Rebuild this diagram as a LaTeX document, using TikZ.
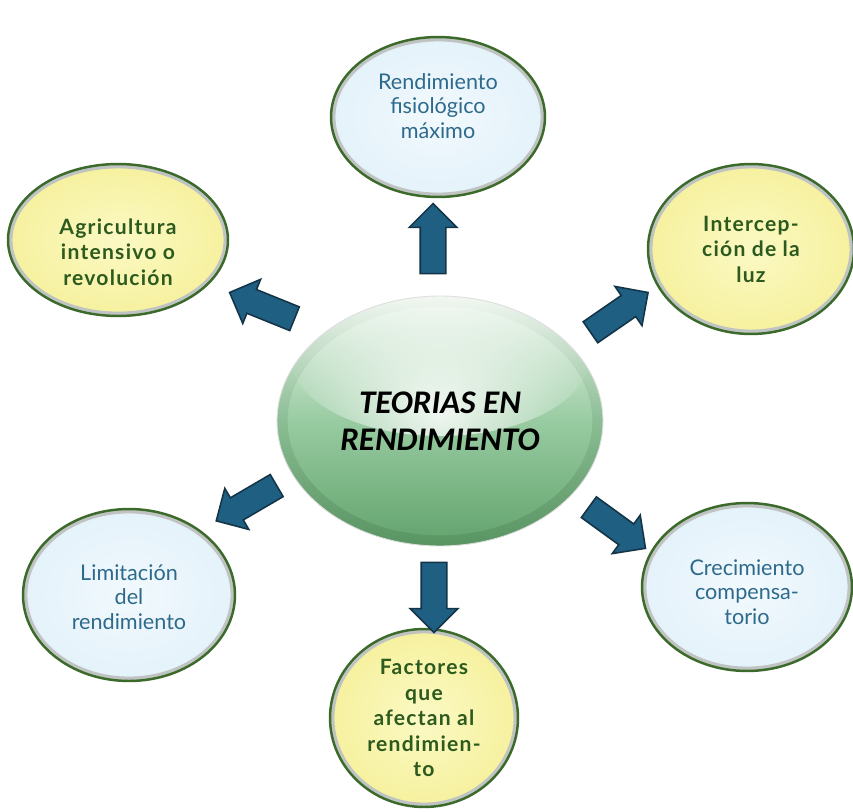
\documentclass[tikz,border=0pt]{standalone}
\usepackage{fontspec}
\setmainfont{Lato}
\newfontfamily\titlefont{Carlito}
\usetikzlibrary{shapes.geometric,shapes.arrows,calc,fadings}
\definecolor{arrowblue}{HTML}{1F5F82}
\definecolor{arrowedge}{HTML}{143447}
\definecolor{ringgreen}{HTML}{3B6A2B}
\definecolor{bluefill}{HTML}{E4F2FA}
\definecolor{bluefillin}{HTML}{F1F9FD}
\definecolor{yellowfill}{HTML}{F6F19E}
\definecolor{yellowfillin}{HTML}{FBF9C4}
\definecolor{bluetext}{HTML}{2E6A8B}
\definecolor{greentext}{HTML}{2D5A1E}
\definecolor{gTop}{HTML}{F3F9F3}
\definecolor{gMid}{HTML}{98CBA1}
\definecolor{gBot}{HTML}{62A36D}
\definecolor{bevel}{HTML}{BFC3C1}
\tikzfading[name=softglow, inner color=transparent!0, outer color=transparent!100]
\tikzset{
  ringpp/.style={path picture={
    \draw[#1, line width=5pt]
      let \p0=(path picture bounding box.center),
          \p1=(path picture bounding box.east),
          \p2=(path picture bounding box.north)
      in (\p0) ellipse [x radius={\x1-\x0}, y radius={\y2-\y0}];}},
  bubble/.style={ellipse, draw=ringgreen, line width=1.4pt, ringpp=bevel, inner sep=0pt},
  bluebubble/.style={bubble, inner color=bluefillin, outer color=bluefill},
  yellowbubble/.style={bubble, inner color=yellowfillin, outer color=yellowfill},
  bluetxt/.style={text=bluetext, align=center, font=\fontsize{12.3}{13.8}\selectfont},
  greentxt/.style={text=greentext, align=center, font=\fontsize{12}{14.5}\selectfont\bfseries\addfontfeature{LetterSpace=6}},
  centerpp/.style={path picture={
    \fill[white, opacity=0.85, path fading=softglow]
      ($(path picture bounding box.north)+(0,-1.2cm)$) ellipse [x radius=3.0cm, y radius=1.6cm];
    \draw[gBot!70!black, opacity=0.3, line width=12pt, path fading=north]
      let \p0=(path picture bounding box.center),
          \p1=(path picture bounding box.east),
          \p2=(path picture bounding box.north)
      in (\p0) ellipse [x radius={\x1-\x0}, y radius={\y2-\y0}];}},
  barrow/.style={single arrow, fill=arrowblue, draw=arrowedge, line width=0.9pt,
    minimum height=1.4cm, minimum width=0pt, inner xsep=0pt, inner ysep=0.24cm,
    single arrow head extend=0.22cm, single arrow tip angle=90},
}
\begin{document}
\begin{tikzpicture}[x=0.02cm, y=-0.02cm]
\useasboundingbox (0,0) rectangle (853,812);
\fill[white] (0,0) rectangle (853,812);

\node[bluebubble, minimum width=4.28cm, minimum height=3.2cm,
  label={[bluetxt, yshift=0.22cm, name=rfmtxt]center:{Rendimiento\\fisiológico\\máximo}}] (rfm) at (438,117) {};
\node[yellowbubble, minimum width=4.4cm, minimum height=3.04cm,
  label={[greentxt, yshift=-0.24cm, name=agrtxt]center:{Agricultura\\intensivo o\\revolución}}] (agr) at (118,240) {};
\node[yellowbubble, minimum width=4.12cm, minimum height=3.4cm,
  label={[greentxt, yshift=0cm, name=inttxt]center:{Intercep-\\ción de la\\luz}}] (int) at (751,249) {};
\node[bluebubble, minimum width=4.24cm, minimum height=3.44cm,
  label={[bluetxt, yshift=-0.04cm, name=limtxt]center:{Limitación\\del\\rendimiento}}] (lim) at (129,595) {};
\node[bluebubble, minimum width=4.2cm, minimum height=3.36cm,
  label={[bluetxt, yshift=-0.1cm, name=cretxt]center:{Crecimiento\\compensa-\\torio}}] (cre) at (747,587) {};
\node[yellowbubble, minimum width=3.76cm, minimum height=3.56cm,
  label={[greentxt, yshift=0cm, name=factxt]center:{Factores\\que\\afectan al\\rendimien-\\to}}] (fac) at (424,718) {};

\node[ellipse, minimum width=6.52cm, minimum height=5cm,
  top color=gTop, bottom color=gBot, middle color=gMid,
  draw=gray!25, line width=0.5pt, centerpp, align=center,
  font=\titlefont\bfseries\itshape\fontsize{18.8}{21}\selectfont] (ctr) at (440,421) {TEORIAS EN\\RENDIMIENTO};

\node[barrow, rotate=90] (aup) at (433,245) {};
\node[barrow, rotate=-90] (adn) at (434,591) {};
\node[barrow, rotate=158] (aul) at (268,308) {};
\node[barrow, rotate=34.6] (aur) at (614,316) {};
\node[barrow, rotate=-149.7] (all) at (252,500) {};
\node[barrow, rotate=-36] (alr) at (612,524) {};
\end{tikzpicture}
\end{document}
